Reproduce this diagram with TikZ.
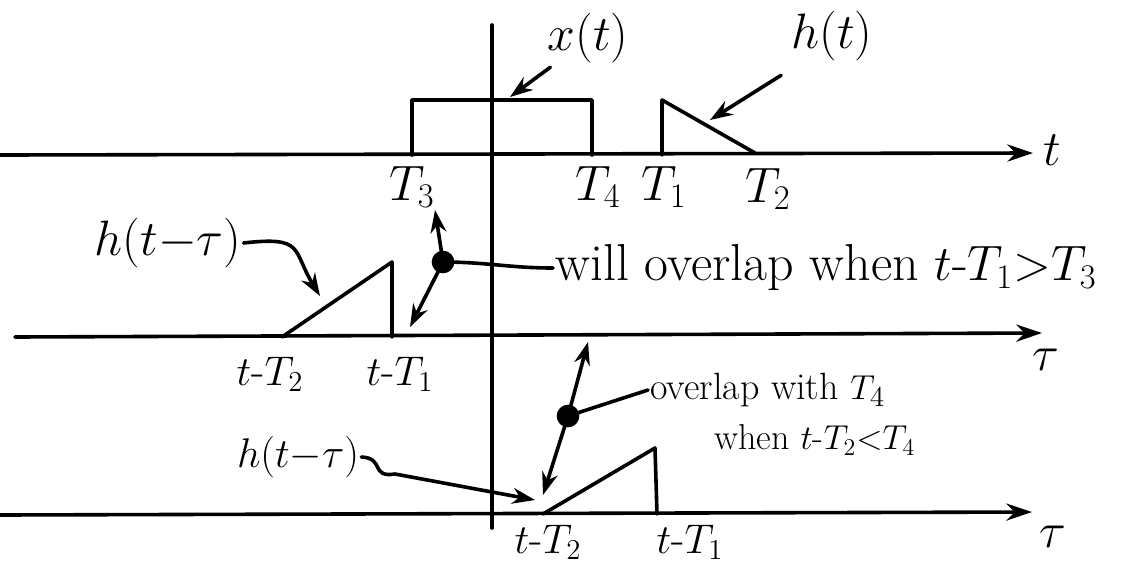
\documentclass[tikz,border=0pt]{standalone}
\usepackage{amsmath,amssymb}
\usepackage{tikz}
\usetikzlibrary{arrows.meta,positioning,calc}
\tikzset{
  ink/.style={line width=1.8pt,line cap=round,line join=round},
  axis/.style={ink,-{Stealth[length=4.5mm,width=3mm]}},
  pointer/.style={ink,-{Stealth[length=4mm,width=2.8mm]}},
  lbl/.style={inner sep=1pt,font=\fontsize{22}{24}\selectfont},
  note/.style={inner sep=1pt,font=\fontsize{19}{22}\selectfont},
  blob/.style={circle,fill=black,inner sep=4pt},
}
\begin{document}
\begin{tikzpicture}[x=0.5pt,y=-0.5pt]
  \useasboundingbox (0,0) rectangle (1122,568);
  % axes
  \coordinate (a1) at (0,155);  \coordinate (e1) at (1033,153);
  \coordinate (a2) at (15,337); \coordinate (e2) at (1042,333);
  \coordinate (a3) at (0,515);  \coordinate (e3) at (1032,512);
  \draw[axis] (a1) -- (e1);
  \draw[axis] (a2) -- (e2);
  \draw[axis] (a3) -- (e3);
  \node[lbl,font=\fontsize{26}{28}\selectfont] (t) at (1052,150) {$t$};
  \node[lbl,font=\fontsize{26}{28}\selectfont] (tau1) at (1046,360) {$\tau$};
  \node[lbl,font=\fontsize{26}{28}\selectfont] (tau2) at (1053,537) {$\tau$};
  \draw[ink] (492,25) -- (492,528);
  % x(t) and h(t)
  \draw[ink] (412,155) -- (412,100) -- (592,100) -- (592,155);
  \draw[ink] (662,155) -- (662,100) -- (755,153);
  \node[lbl,font=\fontsize{24}{26}\selectfont] (T3) at (412,187) {$T_3$};
  \node[lbl,font=\fontsize{24}{26}\selectfont] (T4) at (598,187) {$T_4$};
  \node[lbl,font=\fontsize{24}{26}\selectfont] (T1) at (664,187) {$T_1$};
  \node[lbl,font=\fontsize{24}{26}\selectfont] (T2) at (768,189) {$T_2$};
  \node[lbl,font=\fontsize{24}{26}\selectfont] (xt) at (588,38) {$x(t)$};
  \node[lbl,font=\fontsize{26}{28}\selectfont] (ht) at (832,36) {$h(t)$};
  \coordinate (xtip) at (510,97);
  \coordinate (htip) at (710,120);
  \draw[pointer] (xt.south west) ++(5,2) -- (xtip);
  \draw[pointer] (ht.south west) ++(-8,12) -- (htip);
  % first shifted copy
  \draw[ink] (282,337) -- (392,262) -- (392,337);
  \node[lbl] (m2) at (270,374) {$t$-$T_2$};
  \node[lbl] (m1) at (400,374) {$t$-$T_1$};
  \node[lbl,font=\fontsize{30}{32}\selectfont] (hs1) at (168,243) {$h(t{-}\tau)$};
  \coordinate (hs1tip) at (320,296);
  \draw[pointer] (hs1.east) .. controls (305,236) and (292,250) .. (hs1tip);
  \node[blob] (d1) at (443,262) {};
  \coordinate (up1) at (435,210);
  \coordinate (dn1) at (410,327);
  \draw[pointer] (d1.center) -- (up1);
  \draw[pointer] (d1.center) -- (dn1);
  \node[note,font=\fontsize{26}{28}\selectfont,anchor=west] (c1) at (553,268) {will overlap when $t$-$T_1{>}T_3$};
  \draw[ink] (d1.center) to[out=0,in=180] (c1.west);
  % second shifted copy
  \draw[ink] (543,514) -- (655,448) -- (657,514);
  \node[lbl] (n2) at (548,542) {$t$-$T_2$};
  \node[lbl] (n1) at (690,542) {$t$-$T_1$};
  \node[note,font=\fontsize{20}{22}\selectfont] (hs2) at (298,457) {$h(t{-}\tau)$};
  \coordinate (hs2tip) at (535,500);
  \draw[pointer] (hs2.east) .. controls (385,458) and (370,478) .. (395,474) -- (hs2tip);
  \node[blob] (d2) at (568,416) {};
  \coordinate (up2) at (588,342);
  \coordinate (dn2) at (543,495);
  \draw[pointer] (d2.center) -- (up2);
  \draw[pointer] (d2.center) -- (dn2);
  \node[note,anchor=west] (c2) at (648,390) {overlap with $T_4$};
  \node[note,font=\fontsize{18}{20}\selectfont,anchor=west] (c3) at (712,440) {when $t$-$T_2{<}T_4$};
  \draw[ink] (d2.center) -- (c2.west);
\end{tikzpicture}
\end{document}
